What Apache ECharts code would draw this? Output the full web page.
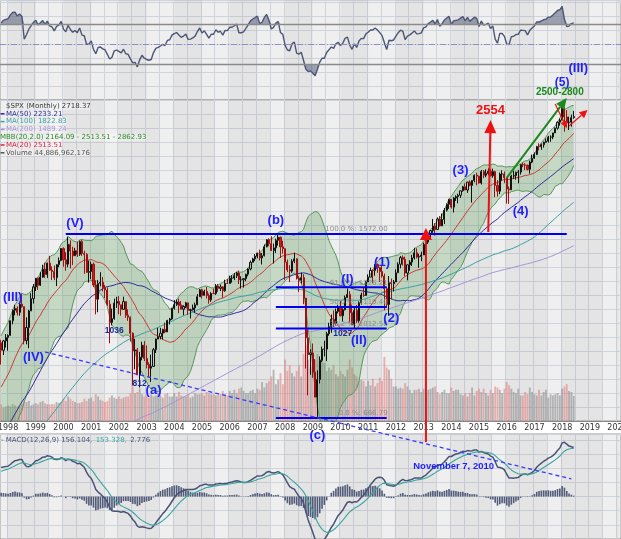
<!DOCTYPE html>
<html>
<head>
<meta charset="utf-8">
<script src="https://cdn.jsdelivr.net/npm/echarts@6/dist/echarts.min.js"></script>
<style>
  html, body { margin: 0; padding: 0; background: #fff; }
  #chart { width: 621px; height: 539px; }
</style>
</head>
<body>
<div id="chart"></div>
<script>
// monthly closes Jan 1985 - Sep 1997, only used to warm up the indicators (not drawn)
const priorCloses = [
  179.63, 181.18, 180.66, 179.83, 189.55, 191.85, 190.92, 188.63, 182.08, 189.82, 202.17, 211.28,
  211.78, 226.92, 238.90, 235.52, 247.35, 250.84, 236.12, 252.93, 231.32, 243.98, 249.22, 242.17,
  274.08, 284.20, 291.70, 288.36, 290.10, 304.00, 318.66, 329.80, 321.83, 251.79, 230.30, 247.08,
  257.07, 267.82, 258.89, 261.33, 262.16, 273.50, 272.02, 261.52, 271.91, 278.97, 273.70, 277.72,
  297.47, 288.86, 294.87, 309.64, 320.52, 317.98, 346.08, 351.45, 349.15, 340.36, 345.99, 353.40,
  329.08, 331.89, 339.94, 330.80, 361.23, 358.02, 356.15, 322.56, 306.05, 304.00, 322.22, 330.22,
  343.93, 367.07, 375.22, 375.35, 389.83, 371.16, 387.81, 395.43, 387.86, 392.45, 375.22, 417.09,
  408.79, 412.70, 403.69, 414.95, 415.35, 408.14, 424.21, 414.03, 417.80, 418.68, 431.35, 435.71,
  438.78, 443.38, 451.67, 440.19, 450.19, 450.53, 448.13, 463.56, 458.93, 467.83, 461.79, 466.45,
  481.61, 467.14, 445.77, 450.91, 456.50, 444.27, 458.26, 475.49, 462.69, 472.35, 453.69, 459.27,
  470.42, 487.39, 500.71, 514.71, 533.40, 544.75, 562.06, 561.88, 584.41, 581.50, 605.37, 615.93,
  636.02, 640.43, 645.50, 654.17, 669.12, 670.63, 639.95, 651.99, 687.31, 705.27, 757.02, 740.74,
  786.16, 790.82, 757.12, 801.34, 848.28, 885.14, 954.31, 899.47, 947.28
];

// drawn candles, Oct 1997 - Jun 2018
const closes = [
  914.62, 955.40, 970.43,
  980.28, 1049.34, 1101.75, 1111.75, 1090.82, 1133.84, 1120.67, 957.28, 1017.01, 1098.67, 1163.63, 1229.23,
  1279.64, 1238.33, 1286.37, 1335.18, 1301.84, 1372.71, 1328.72, 1320.41, 1282.71, 1362.93, 1388.91, 1469.25,
  1394.46, 1366.42, 1498.58, 1452.43, 1420.60, 1454.60, 1430.83, 1517.68, 1436.51, 1429.40, 1314.95, 1320.28,
  1366.01, 1239.94, 1160.33, 1249.46, 1255.82, 1224.38, 1211.23, 1133.58, 1040.94, 1059.78, 1139.45, 1148.08,
  1130.20, 1106.73, 1147.39, 1076.92, 1067.14, 989.82, 911.62, 916.07, 815.28, 885.76, 936.31, 879.82,
  855.70, 841.15, 848.18, 916.92, 963.59, 974.50, 990.31, 1008.01, 995.97, 1050.71, 1058.20, 1111.92,
  1131.13, 1144.94, 1126.21, 1107.30, 1120.68, 1140.84, 1101.72, 1104.24, 1114.58, 1130.20, 1173.82, 1211.92,
  1181.27, 1203.60, 1180.59, 1156.85, 1191.50, 1191.33, 1234.18, 1220.33, 1228.81, 1207.01, 1249.48, 1248.29,
  1280.08, 1280.66, 1294.83, 1310.61, 1270.09, 1270.20, 1276.66, 1303.82, 1335.85, 1377.94, 1400.63, 1418.30,
  1438.24, 1406.82, 1420.86, 1482.37, 1530.62, 1503.35, 1455.27, 1473.99, 1526.75, 1549.38, 1481.14, 1468.36,
  1378.55, 1330.63, 1322.70, 1385.59, 1400.38, 1280.00, 1267.38, 1282.83, 1166.36, 968.75, 896.24, 903.25,
  825.88, 735.09, 797.87, 872.81, 919.14, 919.32, 987.48, 1020.62, 1057.08, 1036.19, 1095.63, 1115.10,
  1073.87, 1104.49, 1169.43, 1186.69, 1089.41, 1030.71, 1101.60, 1049.33, 1141.20, 1183.26, 1180.55, 1257.64,
  1286.12, 1327.22, 1325.83, 1363.61, 1345.20, 1320.64, 1292.28, 1218.89, 1131.42, 1253.30, 1246.96, 1257.60,
  1312.41, 1365.68, 1408.47, 1397.91, 1310.33, 1362.16, 1379.32, 1406.58, 1440.67, 1412.16, 1416.18, 1426.19,
  1498.11, 1514.68, 1569.19, 1597.57, 1630.74, 1606.28, 1685.73, 1632.97, 1681.55, 1756.54, 1805.81, 1848.36,
  1782.59, 1859.45, 1872.34, 1883.95, 1923.57, 1960.23, 1930.67, 2003.37, 1972.29, 2018.05, 2067.56, 2058.90,
  1994.99, 2104.50, 2067.89, 2085.51, 2107.39, 2063.11, 2103.84, 1972.18, 1920.03, 2079.36, 2080.41, 2043.94,
  1940.24, 1932.23, 2059.74, 2065.30, 2096.95, 2098.86, 2173.60, 2170.95, 2168.27, 2126.15, 2198.81, 2238.83,
  2278.87, 2363.64, 2362.72, 2384.20, 2411.80, 2423.41, 2470.30, 2471.65, 2519.36, 2575.26, 2647.58, 2673.61,
  2823.81, 2713.83, 2640.87, 2648.05, 2705.27, 2718.37
];
const highs = [
  960.46, 960.00, 986.25,
  985.10, 1050.66, 1105.65, 1130.00, 1122.00, 1145.15, 1190.58, 1121.00, 1066.11, 1103.78, 1192.97, 1244.93,
  1280.37, 1283.75, 1316.55, 1362.80, 1375.98, 1375.96, 1420.33, 1352.00, 1357.93, 1365.00, 1410.00, 1473.00,
  1478.00, 1444.55, 1552.87, 1527.19, 1481.51, 1474.00, 1517.32, 1525.21, 1530.09, 1454.82, 1438.46, 1389.06,
  1383.37, 1376.38, 1267.42, 1269.30, 1315.93, 1286.62, 1239.78, 1226.27, 1155.40, 1110.61, 1163.38, 1173.62,
  1176.97, 1130.20, 1173.94, 1147.84, 1106.59, 1070.00, 994.46, 965.00, 924.02, 907.44, 951.57, 954.28,
  935.05, 864.64, 895.90, 924.24, 965.38, 1015.33, 1015.41, 1011.01, 1040.29, 1053.79, 1063.65, 1112.56,
  1155.38, 1158.98, 1163.23, 1150.57, 1127.74, 1146.34, 1140.84, 1109.68, 1131.54, 1142.05, 1188.46, 1217.33,
  1217.80, 1212.44, 1229.11, 1191.88, 1199.56, 1219.59, 1245.15, 1245.86, 1243.13, 1233.34, 1270.64, 1275.80,
  1294.90, 1297.57, 1310.88, 1318.16, 1326.70, 1290.68, 1280.42, 1306.74, 1340.28, 1389.45, 1407.89, 1431.81,
  1441.61, 1461.57, 1438.89, 1498.02, 1535.56, 1540.56, 1555.90, 1503.89, 1538.74, 1576.09, 1552.00, 1523.57,
  1471.77, 1396.02, 1359.68, 1397.84, 1440.24, 1404.05, 1292.17, 1313.15, 1303.04, 1167.03, 1007.51, 918.85,
  943.85, 877.86, 832.98, 888.70, 930.17, 956.23, 996.68, 1039.47, 1080.15, 1101.36, 1111.10, 1130.38,
  1150.45, 1112.42, 1180.16, 1219.80, 1205.13, 1131.23, 1120.95, 1129.24, 1148.90, 1196.14, 1227.08, 1262.60,
  1302.67, 1344.07, 1332.28, 1366.00, 1370.58, 1345.20, 1356.48, 1307.38, 1229.29, 1292.66, 1277.55, 1269.37,
  1333.47, 1378.04, 1419.15, 1422.38, 1415.32, 1363.46, 1391.74, 1426.68, 1474.51, 1470.96, 1434.27, 1448.00,
  1509.94, 1530.94, 1570.28, 1597.57, 1687.18, 1654.19, 1698.78, 1709.67, 1729.86, 1775.22, 1813.55, 1849.44,
  1850.84, 1867.92, 1883.97, 1897.28, 1924.03, 1968.17, 1991.39, 2005.04, 2019.26, 2018.19, 2075.76, 2093.55,
  2064.43, 2119.59, 2117.52, 2125.92, 2134.72, 2129.87, 2132.82, 2112.66, 2020.86, 2094.32, 2116.48, 2104.27,
  2044.00, 1962.96, 2072.21, 2111.05, 2103.48, 2120.55, 2177.09, 2193.81, 2187.87, 2169.60, 2214.10, 2277.53,
  2300.99, 2371.54, 2400.98, 2398.16, 2418.71, 2453.82, 2484.04, 2490.87, 2519.44, 2582.98, 2657.74, 2694.97,
  2872.87, 2835.96, 2801.90, 2717.49, 2742.24, 2791.47
];
const lows = [
  855.27, 894.52, 926.22,
  912.83, 979.00, 1032.00, 1076.70, 1074.40, 1074.60, 1114.30, 939.98, 939.98, 923.32, 1098.67, 1136.89,
  1205.46, 1212.19, 1234.66, 1282.56, 1281.41, 1281.41, 1325.00, 1268.37, 1268.00, 1233.66, 1347.00, 1385.00,
  1350.14, 1325.07, 1346.62, 1339.40, 1361.09, 1420.60, 1413.89, 1420.00, 1419.44, 1305.79, 1311.00, 1254.07,
  1274.62, 1228.00, 1081.19, 1091.99, 1232.00, 1203.03, 1165.54, 1124.87, 944.75, 1026.76, 1054.31, 1114.51,
  1081.66, 1074.36, 1106.73, 1063.46, 1048.96, 952.92, 775.68, 837.00, 815.28, 768.63, 872.57, 869.45,
  840.34, 806.29, 788.90, 847.85, 902.83, 963.42, 962.10, 960.84, 990.36, 995.97, 1031.20, 1053.41,
  1105.08, 1124.44, 1087.16, 1107.23, 1076.32, 1113.32, 1078.78, 1060.72, 1101.29, 1090.19, 1127.60, 1173.76,
  1163.75, 1180.95, 1163.69, 1136.15, 1146.18, 1188.30, 1183.55, 1201.07, 1205.35, 1168.20, 1201.07, 1246.59,
  1245.74, 1253.61, 1268.42, 1280.74, 1245.34, 1219.29, 1224.54, 1261.30, 1290.93, 1327.10, 1377.83, 1385.93,
  1403.97, 1389.42, 1363.98, 1416.37, 1476.70, 1484.18, 1454.25, 1370.60, 1439.29, 1489.56, 1406.10, 1435.65,
  1270.05, 1316.75, 1256.98, 1312.00, 1373.07, 1272.00, 1200.44, 1247.45, 1133.50, 839.80, 741.02, 815.69,
  804.47, 734.52, 666.79, 783.32, 866.10, 888.86, 869.32, 978.51, 992.25, 1020.18, 1029.38, 1085.89,
  1071.59, 1044.50, 1101.36, 1166.00, 1040.78, 1028.33, 1010.91, 1039.70, 1039.70, 1131.87, 1173.00, 1180.00,
  1257.62, 1286.12, 1249.05, 1294.70, 1311.80, 1258.07, 1282.86, 1101.54, 1114.22, 1074.77, 1158.66, 1202.37,
  1257.60, 1312.41, 1340.03, 1357.38, 1291.98, 1266.74, 1325.41, 1354.65, 1396.56, 1403.28, 1343.35, 1385.43,
  1426.19, 1485.01, 1501.48, 1536.03, 1581.28, 1560.33, 1604.57, 1627.47, 1632.00, 1646.47, 1746.20, 1767.99,
  1770.45, 1737.92, 1834.44, 1814.36, 1859.79, 1915.98, 1930.67, 1904.78, 1964.04, 1820.66, 2001.01, 1972.56,
  1988.44, 1980.90, 2039.69, 2048.38, 2067.93, 2056.32, 2044.02, 1867.01, 1871.91, 1893.70, 2019.39, 1993.26,
  1812.29, 1810.10, 1931.81, 2033.80, 2025.91, 1991.68, 2074.02, 2147.58, 2119.12, 2114.72, 2083.79, 2187.44,
  2233.62, 2271.65, 2322.25, 2328.95, 2352.72, 2405.70, 2407.70, 2417.35, 2446.55, 2519.00, 2557.45, 2605.52,
  2673.00, 2532.69, 2585.89, 2553.80, 2594.62, 2691.99
];
// monthly volume, billions of shares
const volumes = [
  30, 24, 26,
  28, 26, 30, 28, 26, 28, 30, 36, 34, 36, 28, 30,
  32, 30, 34, 36, 32, 30, 30, 30, 30, 34, 32, 34,
  40, 36, 44, 40, 36, 34, 32, 32, 34, 40, 36, 40,
  42, 36, 48, 44, 38, 36, 34, 36, 42, 46, 42, 40,
  44, 40, 42, 44, 44, 50, 62, 50, 52, 58, 48, 44,
  46, 42, 48, 44, 46, 50, 46, 42, 48, 50, 44, 44,
  50, 44, 52, 46, 44, 44, 48, 42, 44, 50, 48, 48,
  50, 46, 52, 50, 48, 48, 46, 48, 48, 54, 48, 46,
  54, 50, 56, 50, 58, 60, 54, 50, 50, 54, 56, 50,
  58, 56, 70, 60, 68, 72, 80, 92, 66, 74, 86, 66,
  110, 90, 100, 86, 80, 90, 100, 80, 120, 137, 110, 96,
  100, 110, 120, 112, 116, 104, 90, 96, 92, 100, 84, 80,
  90, 84, 80, 92, 110, 96, 84, 80, 72, 74, 72, 62,
  72, 64, 76, 62, 68, 78, 72, 115, 96, 92, 76, 62,
  62, 58, 60, 58, 68, 62, 56, 50, 56, 56, 58, 52,
  58, 52, 56, 58, 60, 62, 52, 48, 52, 56, 50, 50,
  60, 54, 56, 56, 48, 46, 50, 44, 50, 60, 46, 54,
  58, 52, 58, 50, 46, 56, 50, 62, 60, 56, 50, 58,
  70, 64, 58, 52, 50, 58, 46, 46, 52, 48, 60, 52,
  48, 46, 56, 46, 52, 56, 42, 48, 46, 48, 50, 46,
  58, 62, 66, 54, 52, 44.9
];

const legendRows = [
  ['$SPX (Monthly) 2718.37', '#333333'],
  ['MA(50) 2233.21', '#2b2b9b'],
  ['MA(100) 1822.83', '#3a9f9f'],
  ['MA(200) 1489.24', '#a493d6'],
  ['MBB(20,2.0) 2164.09 - 2513.51 - 2862.93', '#2a8a2a'],
  ['MA(20) 2513.51', '#dd2244'],
  ['Volume 44,886,962,176', '#555555']
];

// fibonacci retracement levels
const fibLevels = [
  ['100.0 %: 1572.00', 1572.00],
  ['61.8 %: 1226.21', 1226.21],
  ['50.0 %: 1119.40', 1119.40],
  ['38.2 %: 1012.58', 1012.58],
  ['0.0 %: 666.79', 666.79]
];

// axis months Oct 1997 - Feb 2020
const months = [];
for (let k = 0; k < 269; k++) {
  const t = 1997 * 12 + 9 + k;
  months.push(Math.floor(t / 12) + '-' + String(t % 12 + 1).padStart(2, '0'));
}

// indicators
const all = priorCloses.concat(closes);
const skip = priorCloses.length;
function movingAvg(n) {
  return all.map((c, i) => {
    if (i < n - 1) return null;
    let s = 0;
    for (let k = i - n + 1; k <= i; k++) s += all[k];
    return s / n;
  }).slice(skip);
}
function ema(arr, n) {
  const k = 2 / (n + 1);
  let e = arr[0];
  return arr.map((v, i) => (e = i ? v * k + e * (1 - k) : v));
}
const ma20 = movingAvg(20), ma50 = movingAvg(50), ma100 = movingAvg(100), ma200 = movingAvg(200);
const bbUp = [], bbLow = [];
ma20.forEach((m, j) => {
  const i = j + skip;
  let s = 0;
  for (let k = i - 19; k <= i; k++) s += (all[k] - m) * (all[k] - m);
  const sd = Math.sqrt(s / 20);
  bbUp.push(m + 2 * sd);
  bbLow.push(m - 2 * sd);
});
const e12 = ema(all, 12), e26 = ema(all, 26);
const macdAll = all.map((_, i) => e12[i] - e26[i]);
const sigAll = ema(macdAll, 9);
const macd = macdAll.slice(skip), signal = sigAll.slice(skip);
const hist = macd.map((v, i) => v - signal[i]);

const rsiAll = [null];
let ag = 0, al = 0;
for (let i = 1; i < all.length; i++) {
  const ch = all[i] - all[i - 1];
  const g = Math.max(ch, 0), l = Math.max(-ch, 0);
  if (i <= 14) { ag += g / 14; al += l / 14; }
  else { ag = (ag * 13 + g) / 14; al = (al * 13 + l) / 14; }
  rsiAll.push(i < 14 ? null : 100 - 100 / (1 + ag / al));
}
const rsi = rsiAll.slice(skip);

const candles = closes.map((c, i) => {
  const o = i ? closes[i - 1] : priorCloses[priorCloses.length - 1];
  return [o, c, Math.min(lows[i], o, c), Math.max(highs[i], o, c)];
});
const volData = volumes.map((v, i) => ({
  value: v,
  itemStyle: { color: candles[i][1] >= candles[i][0] ? 'rgba(140,140,140,0.6)' : 'rgba(226,120,120,0.55)' }
}));

// alternating year shading
const bands = [];
for (let y = 1998; y <= 2020; y += 2) {
  bands.push([{ xAxis: y + '-01' }, { xAxis: y === 2020 ? '2020-02' : (y + 1) + '-01' }]);
}
const bandArea = { silent: true, itemStyle: { color: 'rgba(0,0,0,0.045)' }, data: bands };

const gridLine = { show: true, lineStyle: { color: '#d0d4dd', width: 1 } };
const noLine = { show: false };
const off = { lineStyle: { opacity: 0 } };
const panel = { left: 0, right: 0, show: true, backgroundColor: '#efefef', borderColor: '#9a9a9a', borderWidth: 1, outerBoundsMode: 'none', containLabel: false };

const chart = echarts.init(document.getElementById('chart'));

chart.setOption({
  animation: false,
  backgroundColor: '#ffffff',
  grid: [
    { ...panel, top: 0, height: 100 },
    { ...panel, top: 100, height: 321 },
    { ...panel, top: 434, height: 105 }
  ],
  xAxis: [0, 1, 2].map(g => ({
    type: 'category',
    gridIndex: g,
    data: months,
    boundaryGap: true,
    axisLine: { show: g === 1, lineStyle: { color: '#888' } },
    axisTick: { show: false },
    axisLabel: {
      show: g === 1,
      interval: i => (i - 3) % 12 === 0,
      formatter: v => v.slice(0, 4),
      fontSize: 8,
      fontFamily: 'DejaVu Sans',
      color: '#333',
      margin: 3
    },
    splitLine: { show: true, interval: i => (i - 3) % 6 === 0, lineStyle: { color: '#d0d4dd', width: 1 } }
  })),
  yAxis: [
    { gridIndex: 0, type: 'value', min: -6, max: 94, show: false },
    { gridIndex: 0, type: 'value', min: 0, max: 100, interval: 14, axisLine: noLine, axisTick: noLine, axisLabel: noLine, splitLine: gridLine },
    { gridIndex: 1, type: 'log', min: 657.6, max: 2937, show: false },
    { gridIndex: 1, type: 'value', min: 0, max: 576, show: false },
    { gridIndex: 1, type: 'value', min: 0, max: 322, interval: 14, axisLine: noLine, axisTick: noLine, axisLabel: noLine, splitLine: gridLine },
    { gridIndex: 2, type: 'value', min: -135, max: 199, interval: 45, axisLine: noLine, axisTick: noLine, axisLabel: noLine, splitLine: gridLine }
  ],
  series: [
    {
      type: 'line', xAxisIndex: 0, yAxisIndex: 0, data: rsi, showSymbol: false, z: 4,
      lineStyle: { color: '#4b5675', width: 1.4 },
      markArea: bandArea,
      markLine: {
        silent: true, symbol: 'none', label: { show: false },
        data: [
          { yAxis: 70, lineStyle: { color: '#8a8a8a', width: 1.3, type: 'solid' } },
          { yAxis: 50, lineStyle: { color: '#8e8ec8', width: 1, type: [6, 2, 1, 2] } },
          { yAxis: 30, lineStyle: { color: '#8a8a8a', width: 1.3, type: 'solid' } }
        ]
      }
    },
    { type: 'line', xAxisIndex: 0, yAxisIndex: 0, stack: 'hi', data: rsi.map(() => 70), showSymbol: false, ...off },
    { type: 'line', xAxisIndex: 0, yAxisIndex: 0, stack: 'hi', data: rsi.map(r => Math.max(r, 70) - 70), showSymbol: false, ...off, areaStyle: { color: 'rgba(80,90,122,0.75)' } },
    { type: 'line', xAxisIndex: 0, yAxisIndex: 0, stack: 'lo', data: rsi.map(r => Math.min(r, 30)), showSymbol: false, ...off },
    { type: 'line', xAxisIndex: 0, yAxisIndex: 0, stack: 'lo', data: rsi.map(r => 30 - Math.min(r, 30)), showSymbol: false, ...off, areaStyle: { color: 'rgba(80,90,122,0.75)' } },

    { type: 'bar', xAxisIndex: 1, yAxisIndex: 3, data: volData, barWidth: '80%', z: 1, markArea: bandArea },
    { type: 'line', xAxisIndex: 1, yAxisIndex: 2, stack: 'bb', data: bbLow, showSymbol: false, z: 2, lineStyle: { color: '#55985a', width: 1 } },
    { type: 'line', xAxisIndex: 1, yAxisIndex: 2, stack: 'bb', data: bbUp.map((u, i) => u - bbLow[i]), showSymbol: false, z: 2, lineStyle: { color: '#55985a', width: 1 }, areaStyle: { color: 'rgba(72,150,72,0.36)' } },
    { type: 'line', xAxisIndex: 1, yAxisIndex: 2, data: ma20, showSymbol: false, z: 3, lineStyle: { color: '#d03838', width: 1 } },
    { type: 'line', xAxisIndex: 1, yAxisIndex: 2, data: ma50, showSymbol: false, z: 3, lineStyle: { color: '#2b2b9b', width: 1 } },
    { type: 'line', xAxisIndex: 1, yAxisIndex: 2, data: ma100, showSymbol: false, z: 3, lineStyle: { color: '#3a9f9f', width: 1 } },
    { type: 'line', xAxisIndex: 1, yAxisIndex: 2, data: ma200, showSymbol: false, z: 3, lineStyle: { color: '#a493d6', width: 1 } },
    {
      type: 'candlestick', xAxisIndex: 1, yAxisIndex: 2, data: candles, barWidth: '70%', z: 5,
      itemStyle: { color: 'rgba(255,255,255,0)', borderColor: '#111111', color0: '#d21f1f', borderColor0: '#a01010', borderWidth: 1 }
    },

    { type: 'bar', xAxisIndex: 2, yAxisIndex: 5, data: hist, barWidth: '70%', itemStyle: { color: '#525c7a' }, z: 2, markArea: bandArea },
    { type: 'line', xAxisIndex: 2, yAxisIndex: 5, data: macd, showSymbol: false, z: 3, lineStyle: { color: '#485378', width: 1.5 } },
    { type: 'line', xAxisIndex: 2, yAxisIndex: 5, data: signal, showSymbol: false, z: 3, lineStyle: { color: '#3aa59e', width: 1.1 } }
  ]
});

// ---------- annotations (placed in month / price terms) ----------
const CANDLE = 12;
const at = (m, v) => chart.convertToPixel({ seriesIndex: CANDLE }, [months.indexOf(m), v]);
const g = [];
const BLUE = '#1f1fff', RED = '#ee1111', GREEN = '#1a8a1a';

function label(text, m, v, color, font) {
  const p = at(m, v);
  g.push({ type: 'text', x: p[0], y: p[1], z: 100, silent: true,
    style: { text, fill: color, font, textAlign: 'center', textVerticalAlign: 'middle', align: 'center', verticalAlign: 'middle' } });
}
function segment(a, b, color, width, dash) {
  const p = at(a[0], a[1]), q = at(b[0], b[1]);
  g.push({ type: 'line', z: 99, silent: true, shape: { x1: p[0], y1: p[1], x2: q[0], y2: q[1] },
    style: { stroke: color, lineWidth: width, lineDash: dash || null } });
}
function arrow(a, b, color, width, len, half) {
  const p = at(a[0], a[1]), q = at(b[0], b[1]);
  const dx = q[0] - p[0], dy = q[1] - p[1], L = Math.hypot(dx, dy);
  const ux = dx / L, uy = dy / L;
  const bx = q[0] - ux * len, by = q[1] - uy * len;
  g.push({ type: 'line', z: 99, silent: true, shape: { x1: p[0], y1: p[1], x2: bx, y2: by }, style: { stroke: color, lineWidth: width } });
  g.push({ type: 'polygon', z: 99, silent: true,
    shape: { points: [[q[0], q[1]], [bx - uy * half, by + ux * half], [bx + uy * half, by - ux * half]] },
    style: { fill: color } });
}

// 100% line and retracements
segment(['2000-02', 1572], ['2018-03', 1572], '#0000ee', 2);
fibLevels.slice(1).forEach(f => segment(['2007-09', f[1]], ['2011-09', f[1]], '#0000ee', 2));
fibLevels.forEach(f => {
  const p = at('2011-09', f[1]);
  g.push({ type: 'text', x: p[0] + 1, y: p[1] - 1, z: 98, silent: true,
    style: { text: f[0], fill: '#8c8c8c', font: '7px DejaVu Sans', textAlign: 'right', textVerticalAlign: 'bottom', align: 'right', verticalAlign: 'bottom' } });
});
segment(['1999-05', 907], ['2018-05', 502], '#3a3aff', 1.3, [4, 3]);

arrow(['2015-05', 1587], ['2015-06', 2675], RED, 2, 13, 6);
arrow(['2013-02', 596], ['2013-02', 1617], RED, 2, 12, 6);
arrow(['2016-01', 2042], ['2018-03', 2964], GREEN, 2, 11, 5);
arrow(['2017-10', 2882], ['2018-03', 2577], RED, 1.2, 7, 3.5);
arrow(['2018-04', 2601], ['2018-12', 2803], RED, 1.2, 8, 4);

const wave = 'bold 13px Liberation Sans';
label('(V)', '2000-06', 1654, BLUE, wave);
label('(III)', '1998-03', 1172, BLUE, wave);
label('(IV)', '1998-12', 886, BLUE, wave);
label('(b)', '2007-09', 1679, BLUE, wave);
label('(a)', '2003-04', 760, BLUE, wave);
label('(c)', '2009-03', 616, BLUE, wave);
label('(I)', '2010-04', 1275, BLUE, wave);
label('(II)', '2010-09', 959, BLUE, wave);
label('(1)', '2011-07', 1380, BLUE, wave);
label('(2)', '2011-11', 1062, BLUE, wave);
label('(3)', '2014-05', 2119, BLUE, wave);
label('(4)', '2016-07', 1743, BLUE, wave);
label('(5)', '2018-01', 3180, BLUE, 'bold 12px Liberation Sans');
label('(III)', '2018-08', 3410, BLUE, wave);
label('1036', '2001-11', 1000, '#1a2a9a', 'bold 8.5px Liberation Sans');
label('812', '2002-10', 781, '#1a2a9a', 'bold 8.5px Liberation Sans');
label('1027', '2010-02', 986, '#1a2a9a', 'bold 8.5px Liberation Sans');
label('2554', '2015-06', 2803, RED, 'bold 13px Liberation Sans');
label('2500-2800', '2017-12', 3049, GREEN, 'bold 10px Liberation Sans');
label('November 7, 2010', '2014-02', 531, BLUE, 'bold 9.5px Liberation Sans');

// panel legends
legendRows.forEach((r, k) => {
  const y = 106 + k * 7.8;
  const x = k === 4 ? 0 : 6;
  if (k > 0 && k !== 4) {
    g.push({ type: 'line', z: 101, silent: true, shape: { x1: 0.5, y1: y, x2: 4.5, y2: y }, style: { stroke: r[1], lineWidth: 1.5 } });
  }
  g.push({ type: 'text', x, y, z: 101, silent: true,
    style: { text: r[0], fill: r[1], font: '7px DejaVu Sans', textVerticalAlign: 'middle', verticalAlign: 'middle',
      backgroundColor: 'rgba(255,255,255,0.35)' } });
});
g.push({ type: 'text', x: 1, y: 440.5, z: 101, silent: true,
  style: {
    text: '{a|- MACD(12,26,9) 156.104,} {b|153.328,} {a|2.776}',
    textVerticalAlign: 'middle', verticalAlign: 'middle',
    rich: {
      a: { fill: '#4b5675', font: '7px DejaVu Sans' },
      b: { fill: '#3aa59e', font: '7px DejaVu Sans' }
    }
  } });

chart.setOption({ graphic: g });

window.addEventListener('resize', () => chart.resize());
</script>
</body>
</html>
